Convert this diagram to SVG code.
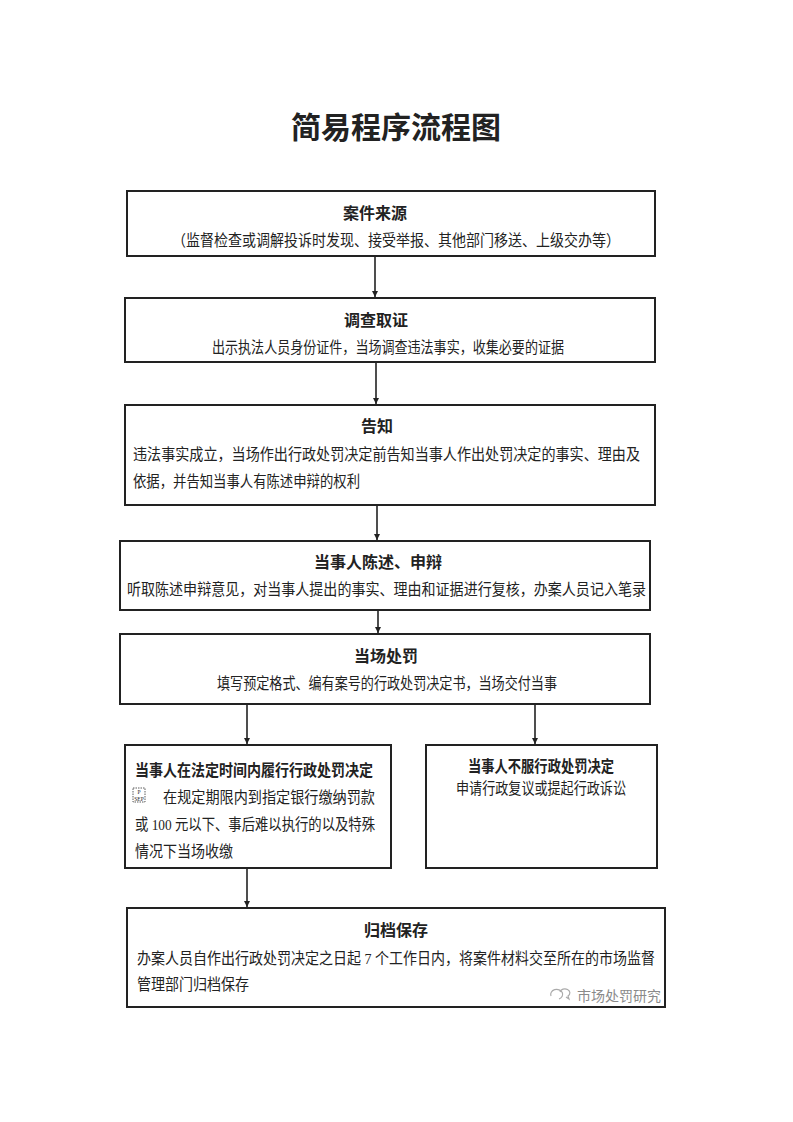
<svg xmlns="http://www.w3.org/2000/svg" width="793" height="1122" viewBox="0 0 793 1122">
<style>
.box{fill:#fff;stroke:#222;stroke-width:2}
.t{font-family:"Liberation Serif","Noto Sans CJK SC",serif;fill:#222}
.h{font-size:16px;font-weight:bold;text-anchor:middle}
.b{font-size:15.5px}
.c{text-anchor:middle}
.title{font-size:30px;font-weight:bold;text-anchor:middle}
.wm{font-family:"Noto Sans CJK SC",sans-serif;font-size:14px;fill:#8a8a8a}
.ln{stroke:#222;stroke-width:1.6;fill:none}
</style>
<defs>
<marker id="arr" viewBox="0 0 10 10" refX="10" refY="5" markerWidth="6" markerHeight="6" orient="auto" markerUnits="userSpaceOnUse">
<path d="M0,0 L10,5 L0,10 z" fill="#222"/>
</marker>
</defs>
<rect width="793" height="1122" fill="#fff"/>
<text class="t title" x="396" y="138">简易程序流程图</text>

<g id="connectors">
<line class="ln" x1="375" y1="257" x2="375" y2="297" marker-end="url(#arr)"/>
<line class="ln" x1="376" y1="363" x2="376" y2="404" marker-end="url(#arr)"/>
<line class="ln" x1="377" y1="506" x2="377" y2="540" marker-end="url(#arr)"/>
<line class="ln" x1="378" y1="611" x2="378" y2="633" marker-end="url(#arr)"/>
<line class="ln" x1="247" y1="705" x2="247" y2="744" marker-end="url(#arr)"/>
<line class="ln" x1="535" y1="705" x2="535" y2="744" marker-end="url(#arr)"/>
<line class="ln" x1="247" y1="869" x2="247" y2="907" marker-end="url(#arr)"/>
</g>

<g id="n1">
<rect class="box" x="127" y="191" width="528" height="65"/>
<text class="t h" x="375" y="219">案件来源</text>
<text class="t b c" x="396" y="246" textLength="448" lengthAdjust="spacingAndGlyphs">（监督检查或调解投诉时发现、接受举报、其他部门移送、上级交办等）</text>
</g>

<g id="n2">
<rect class="box" x="125" y="298" width="530" height="64"/>
<text class="t h" x="376" y="326">调查取证</text>
<text class="t b c" x="388" y="353" textLength="352" lengthAdjust="spacingAndGlyphs">出示执法人员身份证件，当场调查违法事实，收集必要的证据</text>
</g>

<g id="n3">
<rect class="box" x="125" y="405" width="530" height="100"/>
<text class="t h" x="377" y="432">告知</text>
<text class="t b" x="133" y="460" textLength="507" lengthAdjust="spacingAndGlyphs">违法事实成立，当场作出行政处罚决定前告知当事人作出处罚决定的事实、理由及</text>
<text class="t b" x="133" y="487" textLength="227" lengthAdjust="spacingAndGlyphs">依据，并告知当事人有陈述申辩的权利</text>
</g>

<g id="n4">
<rect class="box" x="120" y="541" width="530" height="69"/>
<text class="t h" x="378" y="568">当事人陈述、申辩</text>
<text class="t b" x="127" y="595" textLength="519" lengthAdjust="spacingAndGlyphs">听取陈述申辩意见，对当事人提出的事实、理由和证据进行复核，办案人员记入笔录</text>
</g>

<g id="n5">
<rect class="box" x="120" y="634" width="530" height="70"/>
<text class="t h" x="386" y="662">当场处罚</text>
<text class="t b c" x="387" y="689" textLength="340" lengthAdjust="spacingAndGlyphs">填写预定格式、编有案号的行政处罚决定书，当场交付当事</text>
</g>

<g id="n6">
<rect class="box" x="125" y="745" width="266" height="123"/>
<text class="t h" x="254" y="776" textLength="238" lengthAdjust="spacingAndGlyphs">当事人在法定时间内履行行政处罚决定</text>
<rect x="133" y="788" width="12" height="14" fill="none" stroke="#333" stroke-width="0.8" stroke-dasharray="1.5,1"/>
<text class="t" x="139" y="794" font-size="5.5" text-anchor="middle">P</text>
<text class="t" x="139" y="801" font-size="5.5" text-anchor="middle">SEP</text>
<text class="t b" x="163" y="803" textLength="212" lengthAdjust="spacingAndGlyphs">在规定期限内到指定银行缴纳罚款</text>
<text class="t b" x="135" y="830" textLength="240" lengthAdjust="spacingAndGlyphs">或 100 元以下、事后难以执行的以及特殊</text>
<text class="t b" x="135" y="857" textLength="98" lengthAdjust="spacingAndGlyphs">情况下当场收缴</text>
</g>

<g id="n7">
<rect class="box" x="426" y="745" width="231" height="123"/>
<text class="t h" x="541" y="772" textLength="146" lengthAdjust="spacingAndGlyphs">当事人不服行政处罚决定</text>
<text class="t b c" x="541" y="794" textLength="170" lengthAdjust="spacingAndGlyphs">申请行政复议或提起行政诉讼</text>
</g>

<g id="n8">
<rect class="box" x="127" y="908" width="538" height="99"/>
<text class="t h" x="396" y="936">归档保存</text>
<text class="t b" x="137" y="964" textLength="518" lengthAdjust="spacingAndGlyphs">办案人员自作出行政处罚决定之日起 7 个工作日内，将案件材料交至所在的市场监督</text>
<text class="t b" x="137" y="990" textLength="112" lengthAdjust="spacingAndGlyphs">管理部门归档保存</text>
<g id="watermark">
<path d="M551,996 a6,5 0 1 1 8,3" fill="none" stroke="#aaa" stroke-width="1.2"/>
<path d="M560,992 a5,4 0 1 1 8,4 l1,3 l-3,-2" fill="none" stroke="#aaa" stroke-width="1.2"/>
<text class="wm" x="577" y="1001" textLength="84" lengthAdjust="spacingAndGlyphs">市场处罚研究</text>
</g>
</g>
</svg>
